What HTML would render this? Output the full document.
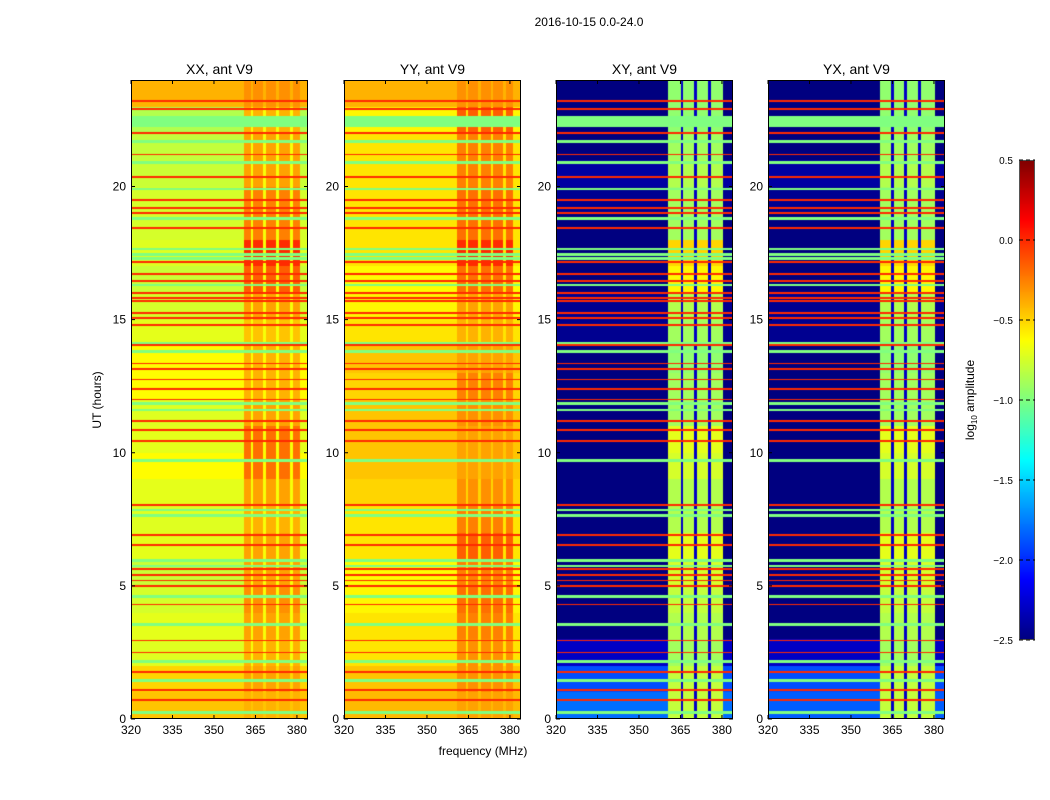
<!DOCTYPE html>
<html><head><meta charset="utf-8">
<style>
body{margin:0;background:#fff;font-family:"Liberation Sans",sans-serif;}
#root{position:relative;width:1050px;height:800px;overflow:hidden;background:#fff}
.t{position:absolute;font-size:13px;color:#000;white-space:nowrap}
canvas{position:absolute}
</style></head>
<body>
<div id="root">
<div class="t" style="left:0;width:1178px;text-align:center;top:15px;font-size:12px">2016-10-15 0.0-24.0</div>
<svg id="svg" width="1050" height="800" style="position:absolute;left:0;top:0"></svg>
</div>
<script>
// ---- data ----
const panelTitles = ["XX, ant V9","YY, ant V9","XY, ant V9","YX, ant V9"];
const xTicks = [320,335,350,365,380];
const yTicks = [0,5,10,15,20];
const cbTicks = [0.5,0.0,-0.5,-1.0,-1.5,-2.0,-2.5];
// hourly background level (log10 amplitude), index = hour 0..23
const baseXX = [-0.45,-0.5,-0.72,-0.7,-0.75,-0.78,-0.7,-0.72,-0.7,-0.62,-0.7,-0.72,-0.62,-0.62,-0.7,-0.75,-0.78,-0.72,-0.75,-0.75,-0.78,-0.8,-0.85,-0.4];
const baseYY = [-0.42,-0.45,-0.55,-0.55,-0.6,-0.62,-0.55,-0.55,-0.5,-0.45,-0.45,-0.45,-0.5,-0.45,-0.55,-0.6,-0.62,-0.55,-0.55,-0.55,-0.55,-0.55,-0.6,-0.4];
const baseXY = [-1.8,-1.9,-2.3,-2.5,-2.5,-2.5,-2.5,-2.5,-2.5,-2.5,-2.5,-2.5,-2.5,-2.5,-2.45,-2.45,-2.5,-2.5,-2.5,-2.45,-2.4,-2.5,-2.5,-2.5];
const baseYX = [-1.85,-1.9,-2.3,-2.5,-2.5,-2.5,-2.5,-2.5,-2.5,-2.5,-2.5,-2.5,-2.5,-2.5,-2.45,-2.45,-2.5,-2.5,-2.5,-2.45,-2.4,-2.5,-2.5,-2.5];
// hourly level inside the bright 361-381 MHz band
const bandXX = [-0.4,-0.35,-0.4,-0.35,-0.3,-0.35,-0.35,-0.4,-0.35,-0.2,-0.2,-0.35,-0.4,-0.4,-0.45,-0.35,-0.15,0.0,-0.25,-0.25,-0.35,-0.35,-0.4,-0.3];
const bandYY = [-0.35,-0.3,-0.3,-0.25,-0.2,-0.25,-0.15,-0.25,-0.3,-0.35,-0.35,-0.3,-0.25,-0.35,-0.4,-0.35,-0.2,0.0,-0.2,-0.2,-0.25,-0.25,-0.15,-0.3];
const bandXY = [-0.8,-0.8,-0.9,-0.85,-0.8,-0.75,-0.7,-0.85,-0.85,-0.75,-0.7,-0.9,-0.9,-0.95,-0.9,-0.85,-0.6,-0.5,-0.9,-0.9,-0.85,-0.9,-0.95,-0.95];
const bandYX = [-0.8,-0.8,-0.9,-0.85,-0.8,-0.75,-0.7,-0.85,-0.85,-0.75,-0.7,-0.9,-0.9,-0.95,-0.9,-0.85,-0.6,-0.5,-0.9,-0.9,-0.85,-0.9,-0.95,-0.95];
// band edges and gap centres (MHz)
const bandEdges = [[361,381],[361,381],[360.5,380.5],[360.5,380.5]];
const gapsXX = [363.8,368.2,373,378];
const gapsYY = [364.5,369,373.5,378];
const gapsXY = [365.5,370.5,375.5];
const gapsYX = [365,369.8,374.8];
const gapLevel = [-0.65,-0.55,-2.3,-2.3];
// flagged integrations (UT hours)
const redFlags = [23.2,22.9,22.0,21.2,20.35,19.5,19.2,19.0,18.45,17.15,16.7,16.45,16.0,15.8,15.7,15.25,15.05,14.8,14.05,13.35,13.15,12.75,12.4,12.0,11.2,10.85,10.45,8.05,6.9,6.55,5.65,5.4,5.2,5.0,4.3,2.95,2.5,1.75,1.1,0.7];
const greenFlags = [22.6,22.5,22.4,22.3,21.7,20.9,19.9,18.8,17.65,17.45,17.3,16.3,14.1,13.8,11.85,11.6,9.7,7.85,7.65,5.95,5.75,4.6,3.55,2.15,1.45,0.25];
const redLevel = 0.0, greenLevel = -1.0;

// ---- layout ----
const panelX = [131,344,556,768], PW=177, PT=80, PB=719, PH=PB-PT;
const fMin=320, fMax=384, tMin=0, tMax=24, vMin=-2.5, vMax=0.5;
const xs = (f,i)=>panelX[i]+(f-fMin)/(fMax-fMin)*PW;
const ys = t=>PB-(t-tMin)/(tMax-tMin)*PH;
const bases=[baseXX,baseYY,baseXY,baseYX], bands=[bandXX,bandYY,bandXY,bandYX], gaps=[gapsXX,gapsYY,gapsXY,gapsYX];

function jet(x){x=Math.max(0,Math.min(1,x));
 const r=Math.max(0,Math.min(1,Math.min(4*x-1.5,-4*x+4.5)));
 const g=Math.max(0,Math.min(1,Math.min(4*x-0.5,-4*x+3.5)));
 const b=Math.max(0,Math.min(1,Math.min(4*x+0.5,-4*x+2.5)));
 return [r*255,g*255,b*255];}
const cmap=v=>jet((v-vMin)/(vMax-vMin));

function value(i,f,t){
 for(const r of redFlags) if(Math.abs(t-r)<0.035) return redLevel;
 for(const g of greenFlags) if(Math.abs(t-g)<0.05) return greenLevel;
 const h=Math.min(23,Math.floor(t));
 const [a,b]=bandEdges[i];
 if(f>=a&&f<=b){
   for(const g of gaps[i]) if(Math.abs(f-g)<0.45) return i<2?Math.max(bases[i][h],gapLevel[i]):gapLevel[i];
   return bands[i][h];
 }
 return bases[i][h];
}

const root=document.getElementById('root');
const svg=document.getElementById('svg');
const NS='http://www.w3.org/2000/svg';
function mk(tag,attrs,parent){const e=document.createElementNS(NS,tag);for(const k in attrs)e.setAttribute(k,attrs[k]);(parent||svg).appendChild(e);return e;}
function txt(s,x,y,anchor,size,parent){const e=mk('text',{x:x,y:y,'text-anchor':anchor,'font-size':size,'font-family':'Liberation Sans, sans-serif'},parent);e.textContent=s;return e;}

for(let i=0;i<4;i++){
 const c=document.createElement('canvas');
 c.width=PW;c.height=PH;c.style.left=panelX[i]+'px';c.style.top=PT+'px';
 
 
 root.insertBefore(c,svg);
 const ctx=c.getContext('2d');const img=ctx.createImageData(PW,PH);
 for(let py=0;py<PH;py++){
  const t=tMax-(py+0.5)/PH*(tMax-tMin);
  for(let px=0;px<PW;px++){
   const f=fMin+(px+0.5)/PW*(fMax-fMin);
   const [r,g,b]=cmap(value(i,f,t));const k=(py*PW+px)*4;
   img.data[k]=r;img.data[k+1]=g;img.data[k+2]=b;img.data[k+3]=255;
  }}
 ctx.putImageData(img,0,0);
 const grp=mk('g',{});
 
 
 mk('rect',{x:panelX[i]+0.5,y:PT+0.5,width:PW-1,height:PH-1,fill:'none',stroke:'#000','stroke-width':1},grp);
 const tt=txt(panelTitles[i],panelX[i]+PW/2,74,'middle',14,grp);
 
 
 for(const f of xTicks){const x=xs(f,i);
  mk('line',{x1:x,x2:x,y1:PB,y2:PB-4,stroke:'#000'},grp);
  mk('line',{x1:x,x2:x,y1:PT,y2:PT+4,stroke:'#000'},grp);
  const l=txt(String(f),x,734,'middle',12,grp);
  
  }
 for(const t of yTicks){const y=ys(t);
  mk('line',{x1:panelX[i],x2:panelX[i]+4,y1:y,y2:y,stroke:'#000'},grp);
  mk('line',{x1:panelX[i]+PW,x2:panelX[i]+PW-4,y1:y,y2:y,stroke:'#000'},grp);
  const l=txt(String(t),panelX[i]-5,y+4,'end',12,grp);
  
  }
}
const xl=txt('frequency (MHz)',483,755,'middle',12);


const yl=txt('UT (hours)',0,0,'middle',12);
yl.setAttribute('transform','translate(101,400) rotate(-90)');



// colorbar
const CBX=1019,CBW=16,CBT=160,CBB=640;
const cb=document.createElement('canvas');cb.width=CBW;cb.height=CBB-CBT;
cb.style.left=CBX+'px';cb.style.top=CBT+'px';


root.insertBefore(cb,svg);
const cctx=cb.getContext('2d');
for(let py=0;py<CBB-CBT;py++){const v=vMax-(py+0.5)/(CBB-CBT)*(vMax-vMin);const [r,g,b]=cmap(v);
 cctx.fillStyle=`rgb(${r|0},${g|0},${b|0})`;cctx.fillRect(0,py,CBW,1);}
mk('rect',{x:CBX+0.5,y:CBT+0.5,width:CBW-1,height:CBB-CBT-1,fill:'none',stroke:'#555'});
for(const v of cbTicks){const y=CBB-(v-vMin)/(vMax-vMin)*(CBB-CBT);
 mk('line',{x1:CBX,x2:CBX+CBW,y1:y,y2:y,stroke:'#000','stroke-dasharray':'4,3'});
 const l=txt((v<0?'\u2212':'')+Math.abs(v).toFixed(1),1013,y+4,'end',10);
 
 }
const cl=mk('text',{'font-size':12,'font-family':'Liberation Sans, sans-serif','text-anchor':'middle',transform:'translate(974,400) rotate(-90)'});
cl.innerHTML='log<tspan font-size="8" dy="3">10</tspan><tspan dy="-3"> amplitude</tspan>';


</script>
</body></html>
